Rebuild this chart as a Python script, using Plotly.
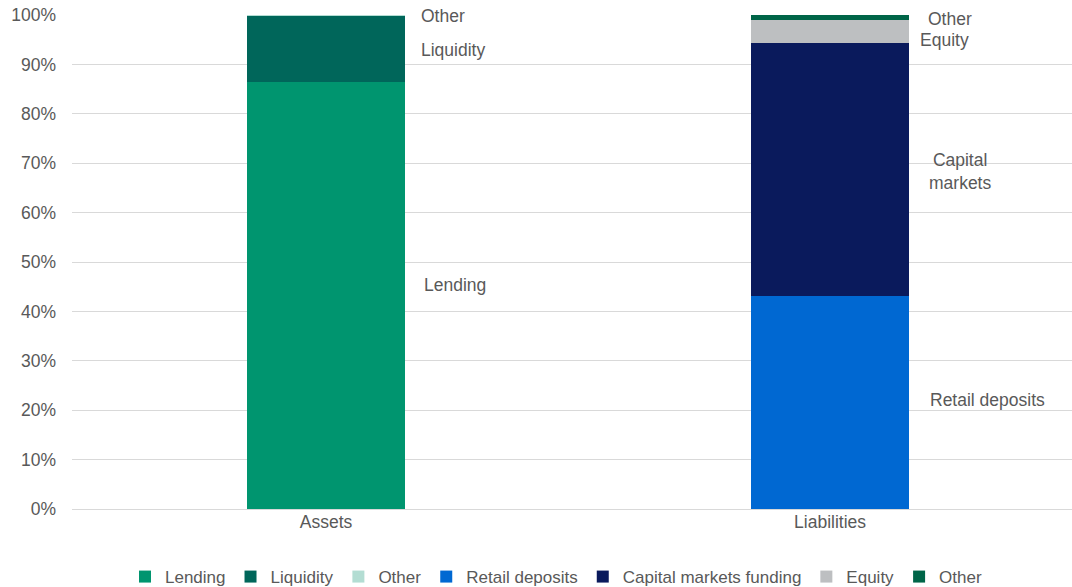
import plotly.graph_objects as go

categories = ["Assets", "Liabilities"]

# asset side (%)
lending = [86.4, None]
liquidity = [13.4, None]
other_assets = [0.2, None]

# liability side (%)
retail_deposits = [None, 43.1]
capital_markets = [None, 51.2]
equity = [None, 4.7]
other_liab = [None, 1.0]

series = [
    ("Lending", lending, "#00956F"),
    ("Liquidity", liquidity, "#00665A"),
    ("Other", other_assets, "#B3DDD3"),
    ("Retail deposits", retail_deposits, "#0068D2"),
    ("Capital markets funding", capital_markets, "#0A1A5C"),
    ("Equity", equity, "#BDBFC1"),
    ("Other", other_liab, "#006548"),
]

xpos = [0, 1]

fig = go.Figure()
for name, vals, col in series:
    fig.add_trace(go.Bar(x=xpos, y=vals, name=name, marker=dict(color=col, line=dict(width=0)),
                         width=0.315))

txt = "#595959"
fs = 17.5
labels = [
    (0.185, 99.8, "Other", "left"),
    (0.185, 93.0, "Liquidity", "left"),
    (0.19, 45.3, "Lending", "left"),
    (1.19, 99.2, "Other", "left"),
    (1.175, 95.0, "Equity", "left"),
    (1.258, 68.3, "Capital<br>markets", "center"),
    (1.195, 22.0, "Retail deposits", "left"),
]
for x, y, t, xa in labels:
    fig.add_annotation(x=x, y=y, text=t, showarrow=False, xanchor=xa, yanchor="middle",
                       font=dict(size=fs, color=txt), align="center")

fig.update_layout(
    barmode="stack",
    width=1072, height=587,
    margin=dict(l=72, r=0, t=15, b=78),
    plot_bgcolor="white", paper_bgcolor="white",
    font=dict(family="Liberation Sans, Arial", size=fs, color=txt),
    xaxis=dict(range=[-0.504, 1.48], tickvals=xpos, ticktext=categories, showgrid=False,
               zeroline=False, showline=False, ticks=""),
    yaxis=dict(range=[0, 100], dtick=10, ticksuffix="%", gridcolor="#D9D9D9", gridwidth=1,
               zeroline=True, zerolinecolor="#D9D9D9", zerolinewidth=1,
               ticks="", ticklabelstandoff=15, automargin=False),
    legend=dict(orientation="h", x=0.484, xanchor="center", yref="container", y=0.017,
                yanchor="middle", font=dict(size=17, color=txt), itemwidth=30,
                traceorder="normal"),
    showlegend=True,
)

fig.write_html("out.html", config={"displayModeBar": False},
               post_script="document.body.style.margin='0';")
